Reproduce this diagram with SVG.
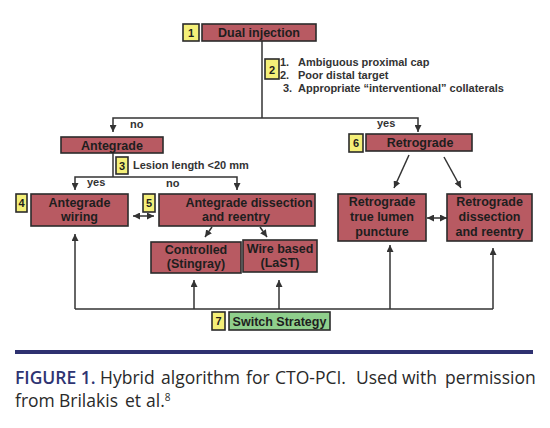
<svg xmlns="http://www.w3.org/2000/svg" width="550" height="428" viewBox="0 0 550 428">
<style>
.red{fill:#b85a62;stroke:#2b2b2b;stroke-width:1.6}
.yel{fill:#f4ef78;stroke:#2b2b2b;stroke-width:1.6}
.grn{fill:#8fcf8c;stroke:#2b2b2b;stroke-width:1.6}
.t{font-family:"Liberation Sans",Arial,sans-serif;font-weight:bold;font-size:12.5px;fill:#1e1e1e;text-anchor:middle}
.n{font-family:"Liberation Sans",Arial,sans-serif;font-weight:bold;font-size:11px;fill:#1e1e1e;text-anchor:middle}
.s{font-family:"Liberation Sans",Arial,sans-serif;font-weight:bold;font-size:11px;fill:#333}
.c{fill:none;stroke:#333;stroke-width:1.5}
.a{marker-end:url(#ah)}
.d{marker-start:url(#ahs);marker-end:url(#ah)}
.cap{font-family:"Open Sans",sans-serif;font-size:17.5px;fill:#2a2a2a}
.capb{font-family:"Open Sans",sans-serif;font-size:17.5px;font-weight:600;fill:#2e3472}
</style>
<defs>
<marker id="ah" viewBox="0 0 10 10" refX="10" refY="5" markerWidth="7" markerHeight="7" markerUnits="userSpaceOnUse" orient="auto"><path d="M0,0 L10,5 L0,10 z" fill="#333"/></marker>
<marker id="ahs" viewBox="0 0 10 10" refX="0" refY="5" markerWidth="7" markerHeight="7" markerUnits="userSpaceOnUse" orient="auto"><path d="M10,0 L0,5 L10,10 z" fill="#333"/></marker>
</defs>

<g id="connectors">
<path class="c" d="M262,41 V118"/>
<path class="c a" d="M262,118 H113 V132"/>
<path class="c a" d="M262,118 H418 V132"/>
<path class="c" d="M113,153 V177"/>
<path class="c a" d="M113,177 H75 V190"/>
<path class="c a" d="M113,177 H237 V190"/>
<path class="c d" d="M133,216 H154"/>
<path class="c a" d="M212,227 L205,237"/>
<path class="c a" d="M260,227 L267,237"/>
<path class="c a" d="M409,155 L394,188"/>
<path class="c a" d="M444,157 L461,188"/>
<path class="c d" d="M427,218 H447"/>
<path class="c" d="M75,309 H493"/>
<path class="c a" d="M75,309 V234"/>
<path class="c a" d="M194,309 V280"/>
<path class="c a" d="M279,309 V280"/>
<path class="c a" d="M390,309 V245"/>
<path class="c a" d="M493,309 V248"/>
<text class="s" x="130" y="128">no</text>
<text class="s" x="377" y="127">yes</text>
<text class="s" x="87" y="186">yes</text>
<text class="s" x="166" y="187">no</text>
</g>

<g id="n1">
<rect class="yel" x="183" y="24" width="16" height="17"/>
<text class="n" x="191" y="37">1</text>
<rect class="red" x="202" y="24" width="114" height="17"/>
<text class="t" x="259" y="37">Dual injection</text>
</g>

<g id="n2">
<rect class="yel" x="265" y="59" width="14" height="20"/>
<text class="n" x="272" y="74">2</text>
<text class="s" x="280" y="66">1.</text><text class="s" x="298" y="66">Ambiguous proximal cap</text>
<text class="s" x="280" y="79">2.</text><text class="s" x="298" y="79">Poor distal target</text>
<text class="s" x="283" y="92">3.</text><text class="s" x="298" y="92">Appropriate “interventional” collaterals</text>
</g>

<g id="antegrade">
<rect class="red" x="61" y="137" width="102" height="16"/>
<text class="t" x="112" y="149.5">Antegrade</text>
</g>

<g id="n3">
<rect class="yel" x="116" y="157" width="12" height="17"/>
<text class="n" x="122" y="170">3</text>
<text class="s" x="133" y="169">Lesion length &lt;20 mm</text>
</g>

<g id="n4">
<rect class="yel" x="16" y="194" width="11" height="18"/>
<text class="n" x="21.5" y="207">4</text>
<rect class="red" x="31" y="194" width="97" height="32"/>
<text class="t" x="79.5" y="207">Antegrade</text>
<text class="t" x="79.5" y="221">wiring</text>
</g>

<g id="n5">
<rect class="yel" x="143" y="194" width="12" height="18"/>
<text class="n" x="149" y="207">5</text>
<rect class="red" x="159" y="194" width="156" height="32"/>
<text class="t" x="249" y="207">Antegrade dissection</text>
<text class="t" x="236" y="221">and reentry</text>
</g>

<g id="controlled">
<rect class="red" x="151" y="242" width="90" height="31"/>
<text class="t" x="196" y="254">Controlled</text>
<text class="t" x="196" y="268">(Stingray)</text>
</g>

<g id="wirebased">
<rect class="red" x="243" y="240" width="74" height="32"/>
<text class="t" x="280" y="253">Wire based</text>
<text class="t" x="280" y="267">(LaST)</text>
</g>

<g id="n6">
<rect class="yel" x="349" y="134" width="14" height="18"/>
<text class="n" x="356" y="147">6</text>
<rect class="red" x="366" y="134" width="106" height="17"/>
<text class="t" x="420" y="147">Retrograde</text>
</g>

<g id="retro-true">
<rect class="red" x="338" y="194" width="88" height="47"/>
<text class="t" x="382" y="206">Retrograde</text>
<text class="t" x="382" y="221">true lumen</text>
<text class="t" x="382" y="236">puncture</text>
</g>

<g id="retro-diss">
<rect class="red" x="447" y="194" width="85" height="47"/>
<text class="t" x="489.5" y="206">Retrograde</text>
<text class="t" x="489.5" y="221">dissection</text>
<text class="t" x="489.5" y="236">and reentry</text>
</g>

<g id="n7">
<rect class="yel" x="212" y="312" width="13" height="18"/>
<text class="n" x="218.5" y="325">7</text>
<rect class="grn" x="229" y="312" width="101" height="18"/>
<text class="t" x="279.5" y="325.5">Switch Strategy</text>
</g>

<g id="caption">
<rect x="15" y="350" width="518" height="4" fill="#2e3170"/>
<text class="capb" x="15" y="384">FIGURE 1.</text>
<text class="cap" y="384"><tspan x="100">Hybrid</tspan><tspan x="161">algorithm</tspan><tspan x="246">for</tspan><tspan x="275">CTO-PCI.</tspan><tspan x="356">Used</tspan><tspan x="402">with</tspan><tspan x="445">permission</tspan></text>
<text class="cap" y="407"><tspan x="15">from</tspan><tspan x="59">Brilakis</tspan><tspan x="125">et</tspan><tspan x="146">al.</tspan><tspan font-size="10" dy="-6">8</tspan></text>
</g>
</svg>
